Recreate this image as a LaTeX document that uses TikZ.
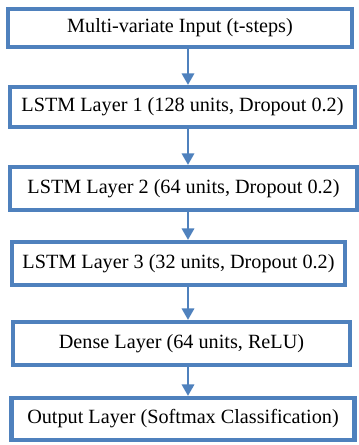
\documentclass[tikz,border=0pt]{standalone}
\usepackage{fontspec}
\setmainfont{Liberation Serif}
\usetikzlibrary{arrows.meta}

\definecolor{layerblue}{HTML}{4F81BD}

\tikzset{
  layer/.style={draw=layerblue, line width=2.4pt, fill=white, inner sep=0pt,
    font=\fontsize{11.5}{13}\selectfont},
  flow/.style={draw=layerblue, line width=1.3pt,
    -{Triangle[width=7pt,length=6.5pt]}}
}

\begin{document}
\begin{tikzpicture}[x=0.02cm,y=-0.02cm]
\useasboundingbox (0,0) rectangle (358,445);
\node[layer, minimum width=344*0.02cm, minimum height=38*0.02cm] (inp) at (180,28) {Multi-variate Input (t-steps)};
\node[layer, minimum width=345*0.02cm, minimum height=40*0.02cm] (l1) at (182.5,107) {LSTM Layer 1 (128 units, Dropout 0.2)};
\node[layer, minimum width=347*0.02cm, minimum height=43*0.02cm] (l2) at (183.5,188.5) {LSTM Layer 2 (64 units, Dropout 0.2)};
\node[layer, minimum width=333*0.02cm, minimum height=43*0.02cm] (l3) at (178.5,263.5) {LSTM Layer 3 (32 units, Dropout 0.2)};
\node[layer, minimum width=337*0.02cm, minimum height=43*0.02cm] (dense) at (181.5,343.5) {Dense Layer (64 units, ReLU)};
\node[layer, minimum width=343*0.02cm, minimum height=42*0.02cm] (out) at (183,419) {Output Layer (Softmax Classification)};

\coordinate (ax) at (188,0);
\draw[flow] (inp.south -| ax) -- (l1.north -| ax);
\draw[flow] (l1.south -| ax) -- (l2.north -| ax);
\draw[flow] (l2.south -| ax) -- (l3.north -| ax);
\draw[flow] (l3.south -| ax) -- (dense.north -| ax);
\draw[flow] (dense.south -| ax) -- (out.north -| ax);
\end{tikzpicture}
\end{document}
